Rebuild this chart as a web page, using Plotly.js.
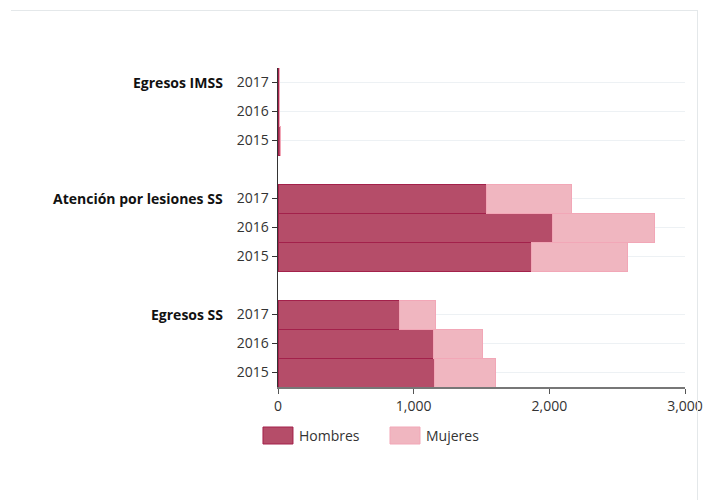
<!DOCTYPE html>
<html>
<head>
<meta charset="utf-8">
<script src="https://cdn.plot.ly/plotly-3.0.1.min.js"></script>
<style>
  html, body { margin: 0; padding: 0; background: #fff; }
  #wrap { position: relative; width: 706px; height: 500px; }
  #chart { width: 706px; height: 500px; }
  #frame { position: absolute; left: 11px; top: 10px; width: 686px; height: 490px;
           border-top: 1px solid #e4e8ea; border-right: 1px solid #e4e8ea; pointer-events: none; }
</style>
</head>
<body>
<div id="wrap">
  <div id="chart"></div>
  <div id="frame"></div>
</div>
<script>
// Groups from bottom to top, years within each group from bottom to top
const groups = ["Egresos SS", "Atención por lesiones SS", "Egresos IMSS"];
const years = ["2015", "2016", "2017"];
// values by group (same order as groups), by year (same order as years)
const hombres = [
  [1155, 1147, 897],   // Egresos SS
  [1872, 2024, 1538],  // Atención por lesiones SS
  [16, 10, 8]          // Egresos IMSS
];
const mujeres = [
  [449, 361, 265],
  [702, 754, 623],
  [4, 1, 6]
];
const seriesNames = ["Hombres", "Mujeres"];
const xTicks = [0, 1000, 2000, 3000];

// build row positions: 3 rows per group + 1 spacer row between groups
const yPos = [], yLabels = [], hVals = [], mVals = [];
const groupLabelPos = [];
groups.forEach((g, gi) => {
  years.forEach((yr, yi) => {
    const p = gi * (years.length + 1) + yi;
    yPos.push(p); yLabels.push(yr);
    hVals.push(hombres[gi][yi]); mVals.push(mujeres[gi][yi]);
  });
  groupLabelPos.push(gi * (years.length + 1) + years.length - 1);
});
const nRows = groups.length * (years.length + 1) - 1;

const colH = "#b54d69", lineH = "#a3214b";
const colM = "#f0b6c0", lineM = "#f2a7b7";
const font = "'Open Sans', 'Liberation Sans', sans-serif";
const fs = 14;

const traces = [
  { type: "bar", orientation: "h", name: seriesNames[0], y: yPos, x: hVals,
    marker: { color: colH, line: { color: lineH, width: 1 } }, hoverinfo: "x+name" },
  { type: "bar", orientation: "h", name: seriesNames[1], y: yPos, x: mVals,
    marker: { color: colM, line: { color: lineM, width: 1 } }, hoverinfo: "x+name" }
];

const annotations = groups.map((g, i) => ({
  xref: "paper", yref: "y", x: -0.131, y: groupLabelPos[i],
  xanchor: "right", yanchor: "middle", showarrow: false,
  text: "<b>" + g + "</b>", font: { family: font, size: fs, color: "#111" }
}));

// legend (custom swatches)
const legX = [-0.0369, 0.2752];
const shapes = [];
[colH, colM].forEach((c, i) => {
  shapes.push({ type: "rect", xref: "paper", yref: "paper",
    x0: legX[i], x1: legX[i] + 0.0737, y0: -0.1787, y1: -0.1254,
    fillcolor: c, line: { color: i === 0 ? lineH : lineM, width: 1 } });
  annotations.push({ xref: "paper", yref: "paper", x: legX[i] + 0.083, y: -0.1536,
    xanchor: "left", yanchor: "middle", showarrow: false, text: seriesNames[i],
    font: { family: font, size: fs, color: "#333" } });
});

const layout = {
  width: 706, height: 500,
  margin: { l: 278, r: 21, t: 68, b: 113 },
  paper_bgcolor: "#fff", plot_bgcolor: "#fff",
  barmode: "stack", bargap: 0,
  showlegend: false,
  font: { family: font, size: fs, color: "#333" },
  xaxis: {
    range: [0, 3000], tickvals: xTicks, tickformat: ",d",
    showgrid: false, zeroline: false,
    showline: true, linecolor: "#777", linewidth: 2,
    ticks: "outside", ticklen: 5, tickcolor: "#555", tickwidth: 1,
    tickfont: { family: font, size: fs, color: "#333" }
  },
  yaxis: {
    range: [-0.5, nRows - 0.5], tickmode: "array", tickvals: yPos, ticktext: yLabels,
    showgrid: true, gridcolor: "#edf1f4", gridwidth: 1.5, zeroline: false,
    showline: true, linecolor: "#333", linewidth: 1.5,
    ticks: "outside", ticklen: 5, tickcolor: "#333", tickwidth: 1,
    tickfont: { family: font, size: fs, color: "#333" }
  },
  annotations: annotations,
  shapes: shapes
};

Plotly.newPlot("chart", traces, layout, { displayModeBar: false, staticPlot: true });
</script>
</body>
</html>
